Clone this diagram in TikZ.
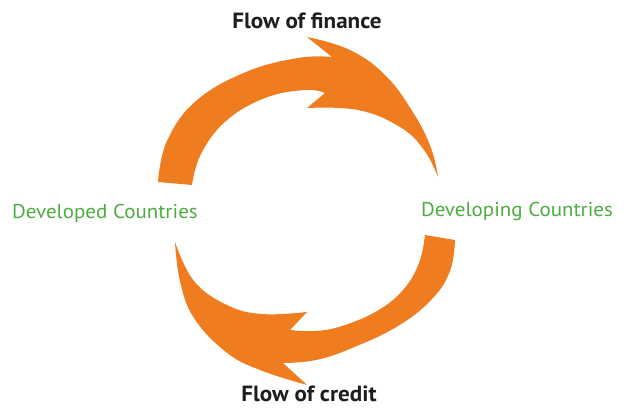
\documentclass[tikz,border=0pt]{standalone}
\usepackage{fontspec}
\setmainfont[FakeStretch=1.05]{PT Sans}
\definecolor{arroworange}{RGB}{240,124,32}
\definecolor{labelgreen}{RGB}{78,172,66}
\definecolor{titledark}{RGB}{30,30,30}
\begin{document}
\begin{tikzpicture}[x=1pt,y=-1pt,
  flowarrow/.style={fill=arroworange,draw=none},
  country/.style={text=labelgreen,font=\fontsize{20}{24}\selectfont,anchor=base,inner sep=0pt},
  flowlabel/.style={text=titledark,font=\bfseries\fontsize{22}{26}\selectfont,anchor=base,inner sep=0pt}]
\useasboundingbox[fill=white] (0,0) rectangle (626,409);
% top arrow: flow of finance
\fill[flowarrow] (158,182)
  -- plot[smooth,tension=0.7] coordinates {(158,182) (167,141) (196,101) (246,72) (298,58) (332,57)}
  -- (307,37)
  -- plot[smooth,tension=0.7] coordinates {(307,37) (350,50) (386,76) (414,114) (431,148) (438,177)}
  -- plot[smooth,tension=0.7] coordinates {(438,177) (424,150) (400,127) (358,110) (307,108)}
  -- (325,93)
  -- plot[smooth,tension=0.7] coordinates {(325,93) (305,90) (265,98) (226,121) (201,154) (192,185)}
  -- cycle;
% bottom arrow: flow of credit
\fill[flowarrow] (425,235)
  -- (455,240)
  -- plot[smooth,tension=0.7] coordinates {(455,240) (450,271) (432,299) (398,326) (352,348) (316,360) (283,363)}
  -- (307,385)
  -- plot[smooth,tension=0.7] coordinates {(307,385) (260,370) (226,352) (194,318) (180,281) (175,242)}
  -- plot[smooth,tension=0.7] coordinates {(175,242) (194,281) (227,305) (262,314) (307,312)}
  -- (290,330)
  -- plot[smooth,tension=0.7] coordinates {(290,330) (315,331) (342,326) (377,311) (403,290) (419,263) (425,235)}
  -- cycle;
\node[flowlabel] (finance) at (307,28.3) {Flow of finance};
\node[flowlabel] (credit) at (309,401.5) {Flow of credit};
\node[country] (developed) at (105,218) {Developed Countries};
\node[country] (developing) at (517,216) {Developing Countries};
\end{tikzpicture}
\end{document}
